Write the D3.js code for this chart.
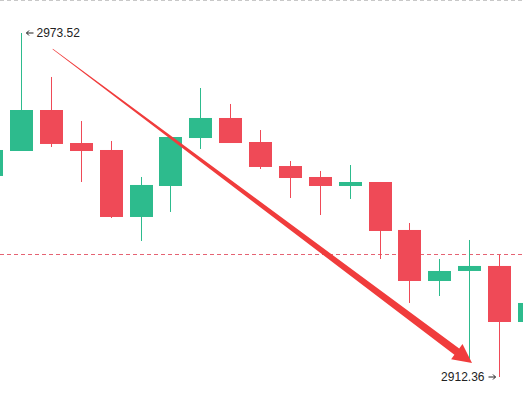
<!DOCTYPE html>
<html>
<head>
<meta charset="utf-8">
<script src="https://cdnjs.cloudflare.com/ajax/libs/d3/7.8.5/d3.min.js"></script>
<style>
  html, body { margin: 0; padding: 0; background: #fff; overflow: hidden; }
  svg { display: block; }
</style>
</head>
<body>
<div class="chart"></div>
<script>
// SVG container
var svgWidth = 523;
var svgHeight = 404;

// candle data, index 0 and 18 are cut off at the edges
var opens  = [2948.10, 2952.54, 2959.83, 2953.96, 2952.72, 2940.81, 2946.32, 2954.85, 2958.41, 2954.14,
              2949.87, 2947.92, 2946.32, 2947.03, 2938.50, 2929.43, 2931.21, 2932.10, 2922.14];
var highs  = [2953.40, 2973.52, 2965.70, 2957.87, 2954.32, 2947.92, 2955.03, 2963.74, 2960.90, 2956.27,
              2950.76, 2948.99, 2950.05, 2947.03, 2939.74, 2933.34, 2936.72, 2934.05, 2927.00];
var lows   = [2946.90, 2952.54, 2953.25, 2947.03, 2940.63, 2936.54, 2941.70, 2952.90, 2953.96, 2949.34,
              2944.18, 2941.16, 2944.01, 2933.34, 2925.52, 2926.76, 2915.03, 2912.36, 2921.00];
var closes = [2952.72, 2959.83, 2953.79, 2952.54, 2940.81, 2946.50, 2955.03, 2958.41, 2953.96, 2949.70,
              2947.74, 2946.32, 2947.03, 2938.32, 2929.43, 2931.21, 2932.10, 2922.14, 2925.52];

var maxLabel = "2973.52";
var minLabel = "2912.36";
var priceLine = 2934.23;

// trend arrow: from [candle index, price] to [candle index, price]
var arrowFrom = [2.044, 2970.68];
var arrowTo = [16.08, 2914.85];

var upColor = "#2dbb8d";
var downColor = "#ef4a57";

var candles = opens.map(function(o, i) {
  return {i: i, open: o, high: highs[i], low: lows[i], close: closes[i]};
});

var svg = d3.select(".chart")
  .append("svg")
  .attr("width", svgWidth)
  .attr("height", svgHeight);

// scales
var xScale = d3.scaleLinear()
  .domain([1, 17])
  .range([21.5, 499.5]);

var yScale = d3.scaleLinear()
  .domain([2912.36, 2973.52])
  .range([377, 33]);

var bodyWidth = 23;

// top border
svg.append("line")
  .attr("x1", 0).attr("x2", svgWidth)
  .attr("y1", 0.5).attr("y2", 0.5)
  .attr("stroke", "#c8c8c8")
  .attr("stroke-dasharray", "4,3");

// price line
svg.append("line")
  .attr("x1", 0).attr("x2", svgWidth)
  .attr("y1", Math.round(yScale(priceLine)) + 0.5)
  .attr("y2", Math.round(yScale(priceLine)) + 0.5)
  .attr("stroke", "#e0485a")
  .attr("stroke-opacity", 0.85)
  .attr("stroke-dasharray", "4,3");

var candleGroup = svg.append("g");

// wicks
candleGroup.selectAll(".wick")
  .data(candles)
  .enter()
  .append("line")
  .attr("class", "wick")
  .attr("x1", d => Math.floor(xScale(d.i)) + 0.5)
  .attr("x2", d => Math.floor(xScale(d.i)) + 0.5)
  .attr("y1", d => yScale(d.high))
  .attr("y2", d => yScale(d.low))
  .attr("stroke", d => d.close >= d.open ? upColor : downColor)
  .attr("stroke-width", 1);

// bodies
candleGroup.selectAll(".body")
  .data(candles)
  .enter()
  .append("rect")
  .attr("class", "body")
  .attr("x", d => Math.round(xScale(d.i) - bodyWidth / 2))
  .attr("y", d => yScale(Math.max(d.open, d.close)))
  .attr("width", bodyWidth)
  .attr("height", d => Math.max(1, Math.abs(yScale(d.open) - yScale(d.close))))
  .attr("fill", d => d.close >= d.open ? upColor : downColor);

// high / low marks
var hiIdx = d3.maxIndex(highs);
var loIdx = d3.minIndex(lows);
var hx = Math.floor(xScale(hiIdx)) + 0.5;
var hy = yScale(highs[hiIdx]);
var lx = Math.floor(xScale(loIdx)) + 0.5;
var ly = yScale(lows[loIdx]);

var markGroup = svg.append("g")
  .attr("stroke", "#222")
  .attr("fill", "none")
  .attr("stroke-width", 1);

markGroup.append("path")
  .attr("d", `M${hx + 12},${hy} L${hx + 5},${hy} M${hx + 7.5},${hy - 2.5} L${hx + 5},${hy} L${hx + 7.5},${hy + 2.5}`);

markGroup.append("path")
  .attr("d", `M${lx - 11},${ly} L${lx - 4},${ly} M${lx - 6.5},${ly - 2.5} L${lx - 4},${ly} L${lx - 6.5},${ly + 2.5}`);

svg.append("text")
  .attr("x", hx + 15)
  .attr("y", hy)
  .attr("dy", "0.35em")
  .attr("font-family", "'Liberation Sans', Arial, sans-serif")
  .attr("font-size", "12px")
  .attr("fill", "#222")
  .text(maxLabel);

svg.append("text")
  .attr("x", lx - 15)
  .attr("y", ly)
  .attr("dy", "0.35em")
  .attr("text-anchor", "end")
  .attr("font-family", "'Liberation Sans', Arial, sans-serif")
  .attr("font-size", "12px")
  .attr("fill", "#222")
  .text(minLabel);

// tapered trend arrow
var ax0 = xScale(arrowFrom[0]), ay0 = yScale(arrowFrom[1]);
var ax1 = xScale(arrowTo[0]), ay1 = yScale(arrowTo[1]);
var dx = ax1 - ax0, dy = ay1 - ay0;
var len = Math.sqrt(dx * dx + dy * dy);
var ux = dx / len, uy = dy / len;
var px = -uy, py = ux;
var headLen = 19, headHalf = 9.5, shaftHalf = 4, startHalf = 0.3;
var bx = ax1 - ux * headLen, by = ay1 - uy * headLen;

var arrowPts = [
  [ax0 + px * startHalf, ay0 + py * startHalf],
  [bx + px * shaftHalf, by + py * shaftHalf],
  [bx + px * headHalf, by + py * headHalf],
  [ax1, ay1],
  [bx - px * headHalf, by - py * headHalf],
  [bx - px * shaftHalf, by - py * shaftHalf],
  [ax0 - px * startHalf, ay0 - py * startHalf]
];

svg.append("path")
  .attr("d", d3.line()(arrowPts) + "Z")
  .attr("fill", "#f03c3c");
</script>
</body>
</html>
